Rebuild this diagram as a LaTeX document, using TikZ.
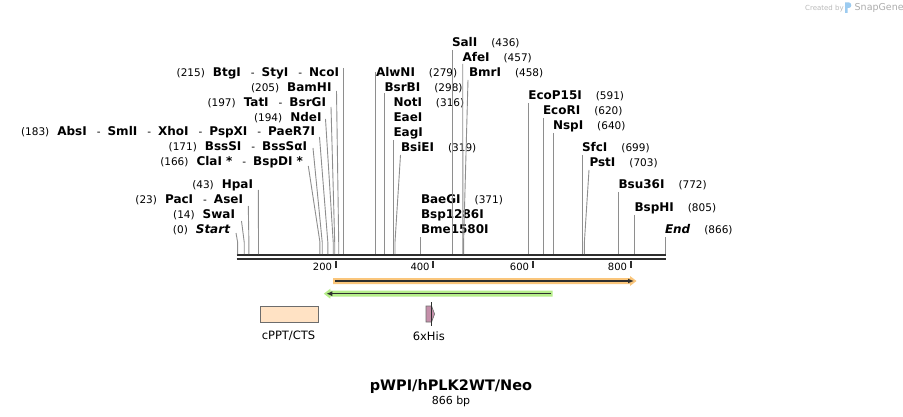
\documentclass[tikz,border=0pt]{standalone}
\usepackage{fontspec}
\setmainfont{DejaVu Sans}
\usetikzlibrary{arrows.meta,calc}
\definecolor{bb}{HTML}{2E2E2E}
\definecolor{sitegray}{HTML}{8E8E8E}
\definecolor{orangeband}{HTML}{FAC67C}
\definecolor{greenband}{HTML}{B6EE8A}
\definecolor{peach}{HTML}{FFE2C4}
\definecolor{mauve}{HTML}{C58FAA}
\definecolor{sglogo}{HTML}{9CCBF0}
\newcommand\Enz[1]{{\fontsize{12}{14}\selectfont\bfseries #1}}
\newcommand\Pos[1]{{\fontsize{10.5}{12}\selectfont (#1)}}
\newcommand\Sep{\hspace{10pt}{\fontsize{10.5}{12}\selectfont -}\hspace{7pt}}
\newcommand\Gap{\hspace{8pt}}
\newcommand\RGap{\hspace{14pt}}
\tikzset{
  lbl/.style={inner sep=0pt, outer sep=0pt},
  siteline/.style={draw=sitegray, line width=0.9pt},
  backbone/.style={draw=bb, line width=2.5pt},
  tickmark/.style={draw=bb, line width=2pt},
  ticklbl/.style={inner sep=0pt, anchor=east, font=\fontsize{10}{12}\selectfont},
  featlbl/.style={inner sep=0pt, font=\fontsize{11.5}{13}\selectfont},
}
\begin{document}
\begin{tikzpicture}[x=1pt,y=-1pt]
\useasboundingbox (0,0) rectangle (903,417);

% backbone
\coordinate (bbL1) at (236.7,255); \coordinate (bbR1) at (665.8,255);
\coordinate (bbL2) at (236.7,259); \coordinate (bbR2) at (665.8,259);
\draw[backbone] (bbL1) -- (bbR1);
\draw[backbone] (bbL2) -- (bbR2);

% ticks
\foreach \tx/\tl in {335.7/200, 433.3/400, 532.7/600, 630.7/800}{
  \coordinate (t\tl a) at (\tx,260.5);
  \coordinate (t\tl b) at (\tx,268);
  \draw[tickmark] (t\tl a) -- (t\tl b);
  \node[ticklbl] (tl\tl) at (\tx-3.5,267.3) {\tl};
}

% ---------- left labels ----------
\node[lbl, anchor=base east] (l215) at (339,76.5) {\Pos{215}\Gap\Enz{BtgI}\Sep\Enz{StyI}\Sep\Enz{NcoI}};
\node[lbl, anchor=base east] (l205) at (331.5,91.5) {\Pos{205}\Gap\Enz{BamHI}};
\node[lbl, anchor=base east] (l197) at (326,106.5) {\Pos{197}\Gap\Enz{TatI}\Sep\Enz{BsrGI}};
\node[lbl, anchor=base east] (l194) at (321.5,121.5) {\Pos{194}\Gap\Enz{NdeI}};
\node[lbl, anchor=base east] (l183) at (315,135.5) {\Pos{183}\Gap\Enz{AbsI}\Sep\Enz{SmlI}\Sep\Enz{XhoI}\Sep\Enz{PspXI}\Sep\Enz{PaeR7I}};
\node[lbl, anchor=base east] (l171) at (307,150.5) {\Pos{171}\Gap\Enz{BssSI}\Sep\Enz{BssSαI}};
\node[lbl, anchor=base east] (l166) at (303,165.5) {\Pos{166}\Gap\Enz{ClaI *}\Sep\Enz{BspDI *}};
\node[lbl, anchor=base east] (l43) at (253,188.5) {\Pos{43}\Gap\Enz{HpaI}};
\node[lbl, anchor=base east] (l23) at (243,203.5) {\Pos{23}\Gap\Enz{PacI}\Sep\Enz{AseI}};
\node[lbl, anchor=base east] (l14) at (235,218.5) {\Pos{14}\Gap\Enz{SwaI}};
\node[lbl, anchor=base east] (l0) at (230,233.5) {\Pos{0}\Gap{\fontsize{12}{14}\selectfont\bfseries\itshape Start}};

% left connectors: start / knee / bottom
\foreach \n/\sx/\sy/\bx in {215/343.6/68/343.6, 205/336.5/91/338.7, 197/331/107/334.7,
    194/325.5/119/333.2, 183/319.5/137/327.8, 171/313/148/322.2, 166/308.3/166/319.9,
    43/258.3/190/258.5, 23/248.3/206/248.9, 14/241.5/221/244.2, 0/236/233/237.6}{
  \coordinate (s\n) at (\sx,\sy);
  \coordinate (k\n) at (\bx,242);
  \coordinate (b\n) at (\bx,254);
  \draw[siteline] (s\n) -- (k\n) -- (b\n);
}

% ---------- right labels ----------
\node[lbl, anchor=base west] (r436) at (452,46.5) {\Enz{SalI}\RGap\Pos{436}};
\node[lbl, anchor=base west] (r457) at (462.5,61.5) {\Enz{AfeI}\RGap\Pos{457}};
\node[lbl, anchor=base west] (r458) at (469,76.5) {\Enz{BmrI}\RGap\Pos{458}};
\node[lbl, anchor=base west] (r279) at (376,76.5) {\Enz{AlwNI}\RGap\Pos{279}};
\node[lbl, anchor=base west] (r298) at (384.5,91.5) {\Enz{BsrBI}\RGap\Pos{298}};
\node[lbl, anchor=base west] (r316) at (393.5,106.5) {\Enz{NotI}\RGap\Pos{316}};
\node[lbl, anchor=base west] (rEae) at (393.5,121.5) {\Enz{EaeI}};
\node[lbl, anchor=base west] (rEag) at (393.5,136.5) {\Enz{EagI}};
\node[lbl, anchor=base west] (r319) at (401,151.5) {\Enz{BsiEI}\RGap\Pos{319}};
\node[lbl, anchor=base west] (r371) at (421,203.5) {\Enz{BaeGI}\RGap\Pos{371}};
\node[lbl, anchor=base west] (rBsp) at (421,218.5) {\Enz{Bsp1286I}};
\node[lbl, anchor=base west] (rBme) at (421,233.5) {\Enz{Bme1580I}};
\node[lbl, anchor=base west] (r591) at (528.3,99.5) {\Enz{EcoP15I}\RGap\Pos{591}};
\node[lbl, anchor=base west] (r620) at (543,114.5) {\Enz{EcoRI}\RGap\Pos{620}};
\node[lbl, anchor=base west] (r640) at (553,129.5) {\Enz{NspI}\RGap\Pos{640}};
\node[lbl, anchor=base west] (r699) at (582,151.5) {\Enz{SfcI}\RGap\Pos{699}};
\node[lbl, anchor=base west] (r703) at (589.5,166.5) {\Enz{PstI}\RGap\Pos{703}};
\node[lbl, anchor=base west] (r772) at (618.5,188.5) {\Enz{Bsu36I}\RGap\Pos{772}};
\node[lbl, anchor=base west] (r805) at (634.5,211.5) {\Enz{BspHI}\RGap\Pos{805}};
\node[lbl, anchor=base west] (r866) at (665,233.5) {{\fontsize{12}{14}\selectfont\bfseries\itshape End}\RGap\Pos{866}};

\foreach \n/\sx/\sy/\bx in {436/452.7/50/452.7, 457/462.7/64/462.9, 458/468/80/463.6,
    279/375.3/72/375.3, 298/384.4/93/384.4, 316/393.6/140/393.6, 319/400.5/155/395,
    371/420.6/237/420.6, 591/528.6/103/528.6, 620/543.3/118/543.3, 640/553.2/133/553.2,
    699/582.4/155/582.4, 703/589/170/584.4, 772/618.5/192/618.5, 805/634.5/215/634.5,
    866/665.3/237/665.3}{
  \coordinate (rs\n) at (\sx,\sy);
  \coordinate (rk\n) at (\bx,242);
  \coordinate (rb\n) at (\bx,254);
  \draw[siteline] (rs\n) -- (rk\n) -- (rb\n);
}

% ---------- features ----------
\fill[orangeband] (333,278) -- (630,278) -- (630,276) -- (636.5,281) -- (630,286) -- (630,284) -- (333,284) -- cycle;
\coordinate (oa) at (335,281); \coordinate (ob) at (634,281);
\draw[bb, line width=1.3pt, -{Latex[length=6pt,width=5pt]}] (oa) -- (ob);

\fill[greenband] (552.5,290.7) -- (330.3,290.7) -- (330.3,288.7) -- (323.8,293.7) -- (330.3,298.7) -- (330.3,296.7) -- (552.5,296.7) -- cycle;
\coordinate (ga) at (550.5,293.7); \coordinate (gb) at (326.3,293.7);
\draw[bb, line width=1.3pt, -{Latex[length=6pt,width=5pt]}] (ga) -- (gb);

\node[draw=gray!85!black, fill=peach, line width=0.8pt, minimum width=58.7pt, minimum height=16.3pt, inner sep=0pt] (cppt) at (289.3,314.2) {};
\node[featlbl] (cpptl) at (288.5,336) {cPPT/CTS};

\fill[mauve] (426,306) -- (431.6,306) -- (434.6,314) -- (431.6,322) -- (426,322) -- cycle;
\draw[bb!70, line width=0.6pt] (426,306) -- (431.6,306) -- (434.6,314) -- (431.6,322) -- (426,322) -- cycle;
\coordinate (hisa) at (431.5,302); \coordinate (hisb) at (431.5,326);
\draw[bb, line width=0.8pt] (hisa) -- (hisb);
\node[featlbl] (hisl) at (428.8,336) {6xHis};

% ---------- title ----------
\node[inner sep=0pt, font=\fontsize{14.5}{16}\selectfont\bfseries] (title) at (451,386) {pWPI/hPLK2WT/Neo};
\node[inner sep=0pt, font=\fontsize{11}{13}\selectfont] (size) at (451,401.5) {866 bp};

% ---------- credit ----------
\node[inner sep=0pt, anchor=west, text=gray!55, font=\fontsize{7}{8}\selectfont] (cb) at (805,8.3) {Created by};
\fill[sglogo] (845,2.5) -- (849,2.5) .. controls (852,2.5) and (852,8) .. (849,8) -- (847.5,8) -- (847.5,13) -- (845,13) -- cycle;
\node[inner sep=0pt, anchor=west, text=gray!65, font=\fontsize{9.5}{11}\selectfont] (sg) at (854.5,8) {SnapGene};
\end{tikzpicture}
\end{document}
